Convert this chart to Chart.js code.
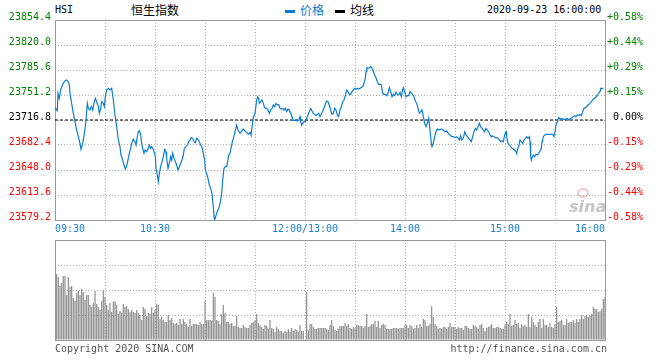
<!DOCTYPE html>
<html><head><meta charset="utf-8">
<script src="https://cdn.jsdelivr.net/npm/chart.js@4.4.0/dist/chart.umd.min.js"></script>
<style>
html,body{margin:0;padding:0;background:#fff;}
body{width:660px;height:360px;overflow:hidden;position:relative;font-family:'DejaVu Sans Mono',monospace;}
#c1{position:absolute;left:0;top:0;}
#c2{position:absolute;left:0;top:238px;}
.t{position:absolute;white-space:nowrap;font-size:10px;line-height:12px;color:#000;}
.cjk{font-family:'Noto Sans CJK SC',sans-serif;font-size:12px;line-height:14px;}
.sw{position:absolute;height:3px;width:10px;}
</style></head><body>
<div class="t" style="left:55px;top:4px">HSI</div>
<div class="t cjk" style="left:131px;top:3px">恒生指数</div>
<div class="sw" style="left:285px;top:10px;background:#0b7dd0"></div>
<div class="t cjk" style="left:300px;top:3px;color:#0b7dd0">价格</div>
<div class="sw" style="left:335px;top:10px;background:#000"></div>
<div class="t cjk" style="left:350px;top:3px">均线</div>
<div class="t" style="left:487px;top:4px">2020-09-23 16:00:00</div>
<canvas id="c1" width="660" height="238"></canvas>
<canvas id="c2" width="660" height="122"></canvas>
<div class="t" style="left:55px;top:343px;color:#555">Copyright 2020 SINA.COM</div>
<div class="t" style="right:53px;top:343px;color:#555">http://finance.sina.com.cn</div>
<script>
// ---- data ----
const prevClose = 23716.8;
const priceTicks = [23579.2, 23613.6, 23648.0, 23682.4, 23716.8, 23751.2, 23785.6, 23820.0, 23854.4];
const leftLabels = ['23579.2','23613.6','23648.0','23682.4','23716.8','23751.2','23785.6','23820.0','23854.4'];
const rightLabels = ['-0.58%','-0.44%','-0.29%','-0.15%','0.00%','+0.15%','+0.29%','+0.44%','+0.58%'];
const gridMinutes = [0,30,60,90,120,150,180,210,240,270,300,330];
const timeTickMinutes = [0,60,150,210,270,330];
const timeTickLabels = ['09:30','10:30','12:00/13:00','14:00','15:00','16:00'];

// minutes after 09:30 (lunch break removed) and index level
const minutes = [0,1.4,1.8,2.6,3.4,4.2,5,6,7,8,8.6,9,10,11,12,13,14,15,15.6,16.4,17,17.8,18.6,19.4,20,21,21.8,22.6,23.4,24.2,25,26,26.6,27.4,28,29,29.6,30.2,31,32,33,34,35,36,37,38,39,39.6,40.6,41.4,42.2,43,43.8,44.6,45.4,46,47,48,48.6,49.4,50,50.6,51.4,52,52.6,53.4,54,55,56,56.6,57.4,58,59,59.4,60.2,60.6,61.4,62,62.6,63.4,64.2,65,65.8,66.6,67,67.8,68.6,69.4,70,70.6,71.4,72.2,73,73.8,74.6,75.4,76.2,77,77.6,78.6,79.4,80.2,81,81.8,82.6,83.4,84.2,85,85.8,86.6,87.4,88.2,89,89.8,90.2,91,91.8,92.6,93.4,94.2,95,95.4,95.8,96.4,97,97.8,98.6,99.4,100,100.6,101.4,102.2,103,103.6,104.2,105,105.6,106.2,107,107.6,108.2,109,109.8,110.4,
111,112,113,114,115,116,117,117.6,118.4,119,119.8,120.4,121,121.6,122.2,122.6,123.4,124.2,125,125.6,126.2,127,127.8,128.6,129.4,130.2,131,131.8,132.6,133.4,134.2,135,135.8,136.6,137.4,138.2,139,139.8,140.6,141.4,142.2,142.6,143.6,144.6,145.4,146.2,147,147.4,148,148.6,149.4,150.2,151,151.8,152.6,153.4,154.2,155,155.8,156.6,157.4,158.2,159,159.8,160.6,161.4,162.2,163,163.8,164.6,165.4,166.2,167,167.8,168.6,169.4,170.2,171,171.8,172.6,173.4,174.2,175,175.8,176.6,177.4,178.2,179,179.8,180.6,181.4,182.2,183,183.8,184.6,185.4,186.2,186.6,187,187.8,188.6,189.4,190.2,191,191.8,192.6,193.4,194.2,195,195.8,196.6,197.4,198.2,199,199.8,200.6,201.4,202.2,203,203.8,204.6,205.4,206.2,207,207.8,208.6,209,209.8,210.6,211.4,212.2,213,213.8,214.6,215.4,216.2,217,217.8,218.6,219.4,220.2,221,221.8,222.6,223.4,224.2,225,225.8,226.2,227,227.8,228.6,229.4,230.2,231,
232,233,234,235,236,237,238,239,240,241,242,242.6,243.4,244,245,245.8,246.6,247.4,248.2,249,249.8,250.6,251.4,252.2,253,253.8,254.6,255.4,256.2,257,257.8,258.6,259.4,260.2,261,261.8,262.6,263.4,264.2,265,265.8,266.6,267.4,268.2,269,269.8,270.6,271,271.8,272.6,273.4,274.2,275,275.8,276.6,277,277.4,278.2,279,279.8,280.6,281.4,282.2,283,283.8,284.6,285,285.4,285.8,286.2,287,287.8,288.6,289.4,290.2,291,291.8,292.2,292.6,293,293.8,295,296.2,297.4,298.6,299.4,300,300.6,301.4,302.2,303,303.8,304.6,305.4,306.2,307,307.8,308.6,309.4,310.2,311,311.8,312.6,313.4,314.2,315,315.8,316.6,317.4,318.2,319,319.8,320.6,321.4,322.2,323,323.8,324.6,325.4,326.2,327,327.4,328.2,329,330];
const prices = [23733.8,23729.6,23753.5,23746.6,23758.1,23763.6,23767.3,23770.9,23771.8,23769.5,23765.0,23753.5,23739.7,23726.0,23714.5,23703.0,23693.9,23684.7,23676.4,23682.4,23689.3,23700.7,23716.8,23739.7,23732.8,23730.6,23735.2,23730.6,23739.7,23746.6,23742.0,23735.2,23726.0,23732.8,23742.0,23739.7,23735.2,23748.9,23758.1,23760.4,23758.1,23760.4,23744.3,23723.7,23707.6,23689.3,23680.1,23668.6,23661.8,23654.9,23649.4,23653.5,23661.8,23670.9,23677.8,23684.7,23690.2,23687.0,23682.4,23693.9,23700.7,23702.1,23696.2,23684.7,23677.8,23670.9,23675.5,23673.2,23677.8,23682.4,23677.8,23680.1,23676.4,23673.2,23666.3,23650.3,23641.1,23631.9,23643.4,23652.6,23659.5,23666.3,23676.4,23673.2,23664.0,23650.3,23657.2,23666.3,23661.8,23671.0,23664.0,23659.5,23654.9,23648.0,23652.6,23657.2,23661.8,23668.6,23677.8,23680.1,23682.4,23687.0,23689.3,23692.5,23691.6,23687.0,23685.6,23691.6,23690.2,23687.0,23682.4,23679.2,23671.0,23661.8,23648.0,23643.4,23636.5,23627.4,23622.8,23615.9,23597.5,23583.8,23579.2,23583.8,23588.4,23593.0,23597.5,23606.7,23615.9,23634.2,23650.3,23652.6,23652.6,23659.5,23668.6,23671.0,23677.8,23684.7,23691.6,23696.2,23703.0,23709.9,23703.0,23700.7,
23698.5,23701.6,23704.4,23701.6,23699.8,23697.1,23699.8,23696.2,23709.9,23721.4,23723.7,23732.8,23744.3,23748.9,23746.6,23739.7,23742.0,23744.3,23739.7,23735.1,23732.8,23732.8,23730.6,23726.0,23730.6,23732.8,23737.4,23735.1,23739.7,23737.4,23738.4,23732.8,23731.9,23732.8,23730.6,23732.8,23728.3,23731.9,23730.6,23726.0,23721.4,23716.8,23715.9,23716.8,23715.4,23716.3,23721.4,23714.5,23709.9,23712.2,23714.5,23714.5,23719.1,23723.7,23728.3,23732.8,23729.2,23726.0,23724.6,23722.8,23724.6,23726.0,23721.4,23724.6,23729.2,23732.8,23738.4,23742.9,23742.0,23737.4,23730.6,23724.6,23726.0,23732.8,23730.6,23723.7,23721.4,23730.6,23735.1,23742.0,23744.3,23750.3,23758.1,23755.8,23752.1,23752.1,23755.8,23758.1,23760.4,23759.0,23760.4,23759.5,23760.4,23761.3,23762.7,23767.3,23774.1,23783.3,23788.8,23787.9,23788.8,23790.2,23787.9,23783.3,23778.7,23775.0,23769.5,23765.9,23765.9,23764.9,23753.5,23752.1,23752.1,23750.3,23753.5,23761.3,23755.8,23748.9,23752.1,23750.3,23754.9,23752.1,23751.2,23754.9,23748.9,23758.1,23761.3,23755.8,23748.9,23750.3,23750.3,23755.8,23753.5,23752.1,23748.9,23742.9,23739.7,23732.8,23726.0,23728.3,23730.6,23721.4,23712.2,23707.6,23712.2,23719.1,23703.0,23684.7,23680.1,23684.7,23693.9,23700.7,23704.4,23703.0,23704.0,
23704.4,23703.0,23700.7,23701.6,23698.5,23696.2,23693.9,23693.9,23692.5,23693.9,23691.6,23689.3,23695.2,23689.3,23691.6,23700.7,23696.2,23693.9,23691.6,23689.3,23687.0,23693.9,23700.7,23705.3,23703.0,23707.6,23712.2,23707.6,23705.3,23703.0,23700.7,23705.3,23703.0,23700.7,23696.2,23693.9,23694.8,23693.9,23692.5,23692.5,23691.6,23689.3,23687.0,23687.9,23687.0,23696.2,23700.7,23693.9,23684.7,23682.4,23680.1,23677.8,23676.9,23675.5,23673.2,23670.9,23675.5,23680.1,23689.3,23687.0,23684.7,23689.3,23691.6,23693.9,23691.6,23693.9,23687.0,23668.6,23661.8,23665.0,23668.6,23666.3,23669.6,23668.6,23670.9,23674.1,23677.8,23687.0,23689.3,23693.9,23696.2,23697.1,23697.1,23697.1,23697.1,23693.9,23700.7,23709.9,23714.5,23720.0,23718.2,23719.1,23717.7,23718.2,23716.8,23719.1,23718.2,23716.8,23719.1,23720.0,23721.4,23722.8,23721.4,23723.7,23722.8,23724.6,23722.8,23728.3,23732.8,23733.8,23735.1,23737.4,23738.8,23741.1,23742.9,23745.7,23746.6,23748.4,23751.2,23753.5,23756.7,23760.4,23760.4,23760.4];

// per-minute volume (relative units), morning 09:31-11:59 and afternoon 13:01-16:00
const morningVolumes = [66,63,54,57,64,64,45,63,53,54,42,39,47,49,45,51,48,40,45,45,35,33,37,49,36,33,30,39,50,43,35,30,37,28,38,39,35,26,29,27,36,33,34,31,28,30,28,27,30,27,25,20,33,31,24,27,26,33,27,30,36,35,21,23,20,18,18,25,20,22,17,16,17,15,21,16,21,18,16,13,21,14,16,16,16,15,18,16,16,39,20,20,20,19,47,43,20,19,16,26,35,27,18,18,16,17,14,14,24,
13,12,12,15,13,12,12,15,17,18,20,26,17,15,13,11,15,14,11,20,12,11,8,13,11,9,9,7,9,8,11,8,12,9,11,10,8,15,9,9];
const afternoonVolumes = [48,10,16,16,13,11,11,12,12,12,12,12,11,10,15,20,14,10,9,11,14,14,14,17,14,16,12,11,13,12,15,15,14,14,12,14,26,13,14,16,16,19,13,19,12,15,16,15,11,11,11,11,12,12,12,11,12,12,12,15,15,12,15,14,11,12,15,12,16,13,
21,20,14,14,16,34,23,16,14,11,12,11,13,13,11,13,17,13,13,13,11,13,12,12,10,14,14,12,11,11,15,14,13,11,15,16,12,9,12,13,14,16,12,12,13,13,12,11,11,15,18,16,26,14,15,20,16,17,12,16,14,15,13,26,13,23,18,15,13,18,21,12,21,15,15,13,17,13,12,16,33,18,19,20,15,15,21,17,18,18,20,17,21,18,21,25,21,24,24,23,24,26,33,31,31,28,29,31,41,43];
const volumeMax = 100;

// ---- style ----
const MONO = 'DejaVu Sans Mono';
const LINE_BLUE = '#0b7dd0';
const GRID = '#aaaaaa';
const FRAME = '#999999';
function levelColor(v){ return Math.abs(v-prevClose)<1e-6 ? '#000000' : (v>prevClose ? '#008000' : '#ff0000'); }

const framePlugin = {
  id:'frame',
  beforeDatasetsDraw(c, args, opts){
    const {ctx, chartArea:a} = c;
    ctx.save();
    if (opts.watermark){
      ctx.fillStyle = 'rgba(150,150,150,0.55)';
      ctx.font = 'italic bold 16px "DejaVu Sans"';
      ctx.textBaseline = 'alphabetic';
      ctx.fillText('sina', a.right-36, a.bottom-8);
      ctx.strokeStyle = 'rgba(220,120,120,0.5)';
      ctx.lineWidth = 1.5;
      ctx.beginPath(); ctx.ellipse(a.right-22, a.bottom-27, 5, 4, 0, 0, Math.PI*2); ctx.stroke();
    }
    ctx.strokeStyle = FRAME; ctx.lineWidth = 1;
    ctx.strokeRect(a.left+0.5, a.top+0.5, a.right-a.left, a.bottom-a.top);
    ctx.restore();
  }
};

const priceData = minutes.map((m,i)=>({x:m, y:prices[i]}));

new Chart(document.getElementById('c1'), {
  type:'line',
  data:{datasets:[
    {data:priceData, borderColor:LINE_BLUE, borderWidth:1.2, pointRadius:0, tension:0, yAxisID:'y'},
    {data:[{x:0,y:prevClose},{x:330,y:prevClose}], borderColor:'#000', borderWidth:1, borderDash:[3,2], pointRadius:0, yAxisID:'y'}
  ]},
  options:{
    responsive:false, animation:false, events:[],
    layout:{padding:{left:0,right:17,top:20,bottom:0}},
    plugins:{legend:{display:false}, tooltip:{enabled:false}, frame:{watermark:true}},
    scales:{
      x:{type:'linear', min:0, max:330,
        afterBuildTicks:s=>{s.ticks = gridMinutes.map(v=>({value:v}));},
        afterFit:s=>{s.height=18;},
        ticks:{autoSkip:false, maxRotation:0, align:'inner', padding:3, color:'#1a7fd0', font:{family:MONO,size:10},
          callback:v=>{const i=timeTickMinutes.indexOf(v); return i>=0?timeTickLabels[i]:'';}},
        grid:{color:GRID, drawTicks:false}, border:{display:false, dash:[1,2]}},
      y:{position:'left', min:priceTicks[0], max:priceTicks[priceTicks.length-1],
        afterBuildTicks:s=>{s.ticks = priceTicks.map(v=>({value:v}));},
        afterFit:s=>{s.width=55;},
        ticks:{padding:4, labelOffset:-3, font:{family:MONO,size:10}, color:ctx=>levelColor(ctx.tick.value),
          callback:(v,i)=>leftLabels[i]},
        grid:{color:GRID, drawTicks:false}, border:{display:false, dash:[1,2]}},
      yr:{position:'right', min:priceTicks[0], max:priceTicks[priceTicks.length-1],
        afterBuildTicks:s=>{s.ticks = priceTicks.map(v=>({value:v}));},
        afterFit:s=>{s.width=38;},
        ticks:{padding:2, labelOffset:-3, crossAlign:'far', font:{family:MONO,size:10}, color:ctx=>levelColor(ctx.tick.value),
          callback:(v,i)=>rightLabels[i]},
        grid:{display:false, drawTicks:false}, border:{display:false}}
    }
  },
  plugins:[framePlugin]
});

const volData = morningVolumes.map((v,i)=>({x:i+1, y:v})).concat(afternoonVolumes.map((v,i)=>({x:151+i, y:v})));

new Chart(document.getElementById('c2'), {
  type:'bar',
  data:{datasets:[{data:volData, backgroundColor:'#8e8e8e', barThickness:1.2, inflateAmount:0, borderWidth:0}]},
  options:{
    responsive:false, animation:false, events:[],
    layout:{padding:{left:55,right:55,top:2,bottom:20}},
    plugins:{legend:{display:false}, tooltip:{enabled:false}, frame:{watermark:false}},
    scales:{
      x:{type:'linear', min:0, max:330, offset:false,
        afterBuildTicks:s=>{s.ticks = gridMinutes.map(v=>({value:v}));},
        afterFit:s=>{s.height=0;},
        ticks:{display:false}, grid:{color:GRID, drawTicks:false, offset:false}, border:{display:false, dash:[1,2]}},
      y:{min:0, max:volumeMax,
        afterBuildTicks:s=>{s.ticks = [0,25,50,75,100].map(v=>({value:v}));},
        afterFit:s=>{s.width=0;},
        ticks:{display:false}, grid:{color:GRID, drawTicks:false}, border:{display:false, dash:[1,2]}}
    }
  },
  plugins:[framePlugin]
});
</script>
</body></html>
